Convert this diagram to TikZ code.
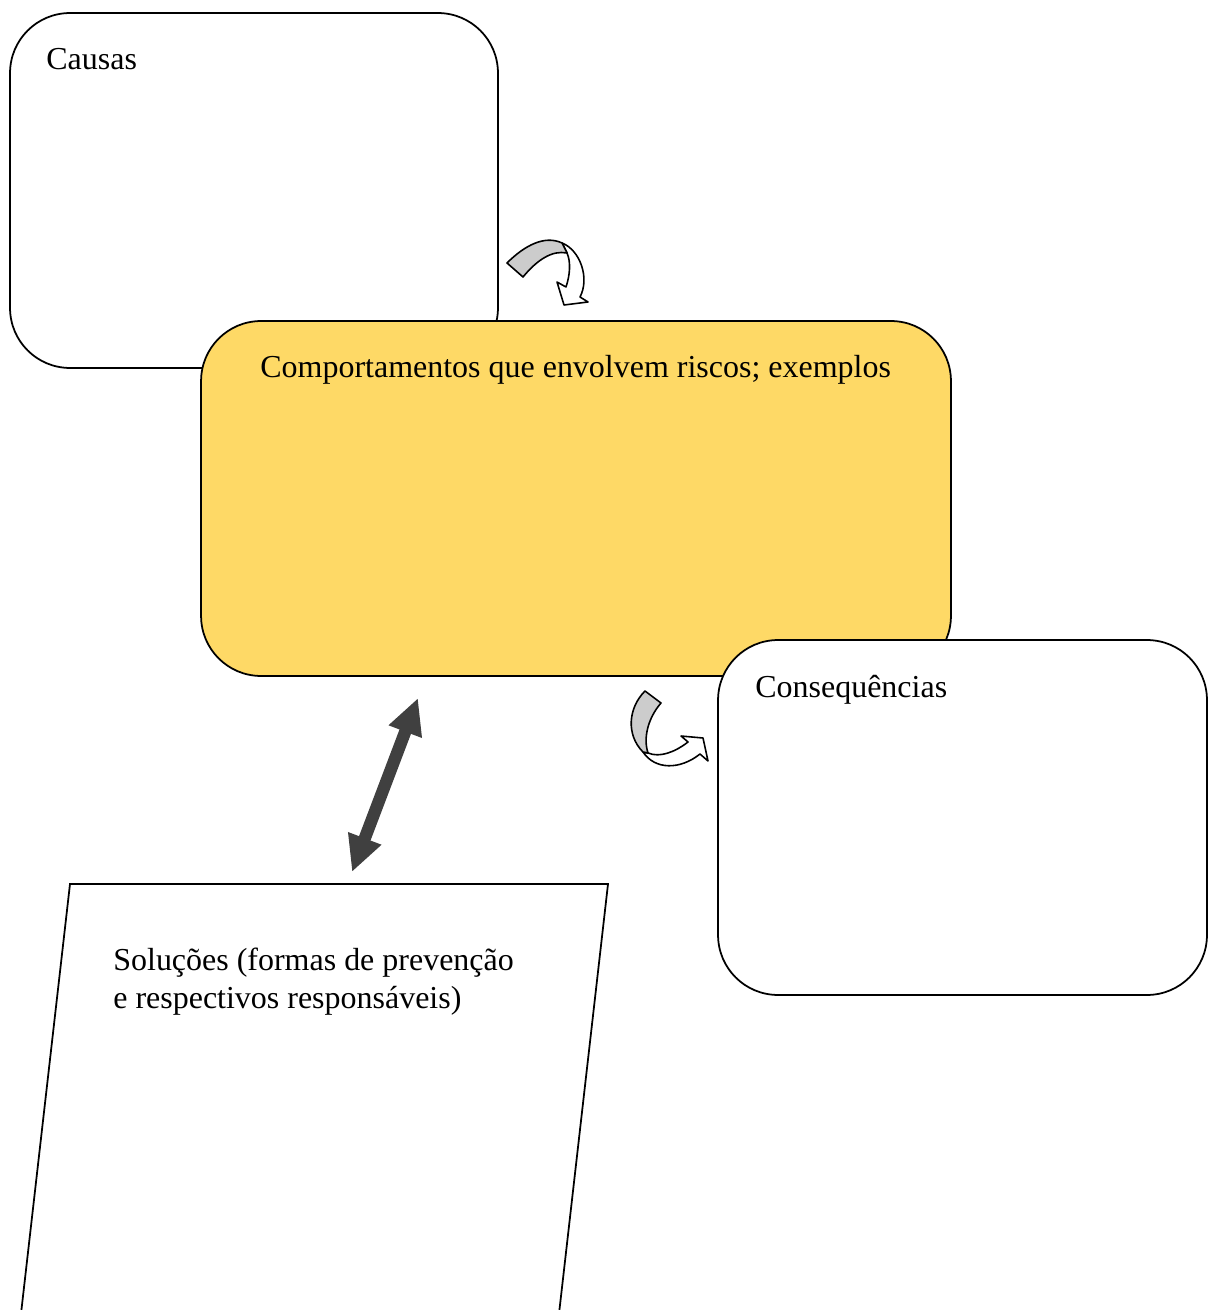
\documentclass[tikz,border=0pt]{standalone}
\usepackage{fontspec}
\setmainfont{Liberation Serif}
\usetikzlibrary{arrows.meta}
\definecolor{riscoyellow}{RGB}{254,217,102}
\definecolor{setagray}{RGB}{64,64,64}
\tikzset{
	box/.style={draw, line width=1pt, rounded corners=1.2cm, minimum width=9.76cm, minimum height=7.1cm, inner sep=0pt},
	lbl/.style={inner sep=0pt, anchor=base west, font=\fontsize{18.2}{21.8}\selectfont},
	curva/.style={draw, line width=0.9pt, line join=round}
}
\begin{document}
\begin{tikzpicture}[x=0.02cm, y=-0.02cm]
			%%%%% START %%%%%
			\useasboundingbox (0, 0) rectangle (1213, 1310);
			\clip (0, 0) rectangle (1213, 1310);
			
			\node[box, fill=white] (causas) at (254, 190.5) {};
			\node[box, fill=riscoyellow, minimum width=15cm] (comport) at (576, 498.5) {};
			\node[box, fill=white, minimum width=9.78cm] (conseq) at (962.5, 817.5) {};
			
			\draw[line width=1pt, fill=white] (70, 884) -- (608, 884) -- (556, 1340) -- (18, 1340) -- cycle;
			
			\node[lbl] (tcausas) at (46, 70) {Causas};
			\node[lbl] (tcomport) at (260, 378) {Comportamentos que envolvem riscos; exemplos};
			\node[lbl] (tconseq) at (755, 697) {Consequências};
			\node[lbl] (tsol1) at (113, 970) {Soluções (formas de prevenção};
			\node[lbl] (tsol2) at (113, 1008) {e respectivos responsáveis)};
			
			% seta curva de cima
			\draw[curva, fill=white] (562, 243) .. controls (580, 250) and (590, 278) .. (580, 297) -- (588, 302) -- (564, 305) -- (557, 282) -- (566, 287) .. controls (570, 275) and (571, 262) .. (567, 253) -- cycle;
			\draw[curva, fill=gray!40] (507, 263) .. controls (525, 245) and (545, 235) .. (562, 243) -- (567, 253) .. controls (552, 250) and (537, 260) .. (523, 277) -- cycle;
			
			% seta curva de baixo
			\draw[curva, fill=white] (643, 752) .. controls (655, 770) and (680, 770) .. (700, 754) -- (708, 761) -- (703, 738) -- (681, 736) -- (688, 742) .. controls (675, 752) and (660, 758) .. (648, 753) -- cycle;
			\draw[curva, fill=gray!40] (645, 691) -- (661, 703) .. controls (648, 718) and (643, 738) .. (648, 753) -- (643, 752) .. controls (626, 735) and (628, 708) .. (645, 691) -- cycle;
			
			% seta dupla
			\coordinate (solcima) at (352, 872);
			\coordinate (compbaixo) at (418, 698);
			\draw[draw=setagray, line width=7pt, {Triangle[width=0.66cm, length=0.72cm]}-{Triangle[width=0.66cm, length=0.72cm]}] (solcima) -- (compbaixo);
			
			%%%%% END %%%%%
\end{tikzpicture}
\end{document}
